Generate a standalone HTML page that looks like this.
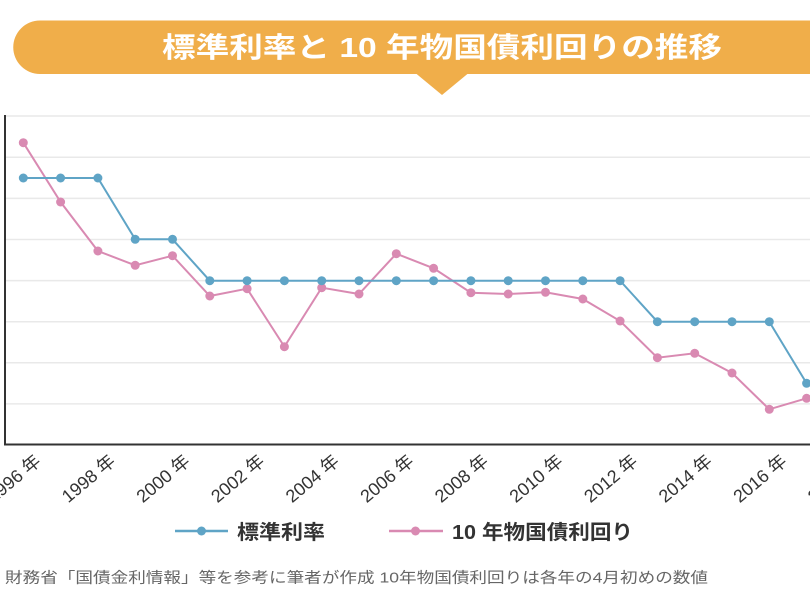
<!DOCTYPE html>
<html>
<head>
<meta charset="utf-8">
<style>
  html,body{margin:0;padding:0;background:#fff;}
  body{width:810px;height:600px;overflow:hidden;}
  svg{display:block;}
  .t{font-family:"Liberation Sans","Noto Sans CJK JP",sans-serif;}
</style>
</head>
<body>
<svg width="810" height="600" viewBox="0 0 810 600" xmlns="http://www.w3.org/2000/svg">
  <!-- Title banner -->
  <path d="M40,20.5 L815,20.5 L815,74 L40,74 A26.75,26.75 0 0 1 40,20.5 Z" fill="#f0ae4a"/>
  <polygon points="416,73.5 468,73.5 442,95" fill="#f0ae4a"/>
  <text class="t" x="162" y="57" font-size="28" font-weight="bold" fill="#ffffff" textLength="560" lengthAdjust="spacingAndGlyphs">標準利率と 10 年物国債利回りの推移</text>

  <!-- gridlines -->
  <g stroke="#e9e9e9" stroke-width="1.5">
    <line x1="5" y1="116" x2="810" y2="116"/>
    <line x1="5" y1="157.3" x2="810" y2="157.3"/>
    <line x1="5" y1="198.4" x2="810" y2="198.4"/>
    <line x1="5" y1="239.5" x2="810" y2="239.5"/>
    <line x1="5" y1="280.6" x2="810" y2="280.6"/>
    <line x1="5" y1="321.7" x2="810" y2="321.7"/>
    <line x1="5" y1="362.8" x2="810" y2="362.8"/>
    <line x1="5" y1="403.9" x2="810" y2="403.9"/>
  </g>
  <!-- axes -->
  <line x1="5" y1="115" x2="5" y2="445" stroke="#333" stroke-width="2"/>
  <line x1="4" y1="444.5" x2="810" y2="444.5" stroke="#333" stroke-width="2"/>

  <!-- pink series -->
  <polyline fill="none" stroke="#d98ab2" stroke-width="2"
    points="23.3,142.7 60.6,202 97.9,251 135.2,265.3 172.5,255.7 209.8,296 247.1,288.7 284.4,346.7 321.7,287.7 359,294 396.3,253.7 433.6,268.3 470.9,292.7 508.2,294 545.5,292.3 582.8,299 620.1,321 657.4,357.7 694.7,353.3 732,373 769.3,409.3 806.6,398.3"/>
  <g fill="#d98ab2">
    <circle cx="23.3" cy="142.7" r="4.5"/><circle cx="60.6" cy="202" r="4.5"/><circle cx="97.9" cy="251" r="4.5"/>
    <circle cx="135.2" cy="265.3" r="4.5"/><circle cx="172.5" cy="255.7" r="4.5"/><circle cx="209.8" cy="296" r="4.5"/>
    <circle cx="247.1" cy="288.7" r="4.5"/><circle cx="284.4" cy="346.7" r="4.5"/><circle cx="321.7" cy="287.7" r="4.5"/>
    <circle cx="359" cy="294" r="4.5"/><circle cx="396.3" cy="253.7" r="4.5"/><circle cx="433.6" cy="268.3" r="4.5"/>
    <circle cx="470.9" cy="292.7" r="4.5"/><circle cx="508.2" cy="294" r="4.5"/><circle cx="545.5" cy="292.3" r="4.5"/>
    <circle cx="582.8" cy="299" r="4.5"/><circle cx="620.1" cy="321" r="4.5"/><circle cx="657.4" cy="357.7" r="4.5"/>
    <circle cx="694.7" cy="353.3" r="4.5"/><circle cx="732" cy="373" r="4.5"/><circle cx="769.3" cy="409.3" r="4.5"/>
    <circle cx="806.6" cy="398.3" r="4.5"/>
  </g>

  <!-- blue series -->
  <polyline fill="none" stroke="#5fa4c6" stroke-width="2"
    points="23.3,178 60.6,178 97.9,178 135.2,239.3 172.5,239.3 209.8,280.7 247.1,280.7 284.4,280.7 321.7,280.7 359,280.7 396.3,280.7 433.6,280.7 470.9,280.7 508.2,280.7 545.5,280.7 582.8,280.7 620.1,280.7 657.4,321.7 694.7,321.7 732,321.7 769.3,321.7 806.6,383.3"/>
  <g fill="#5fa4c6">
    <circle cx="23.3" cy="178" r="4.5"/><circle cx="60.6" cy="178" r="4.5"/><circle cx="97.9" cy="178" r="4.5"/>
    <circle cx="135.2" cy="239.3" r="4.5"/><circle cx="172.5" cy="239.3" r="4.5"/><circle cx="209.8" cy="280.7" r="4.5"/>
    <circle cx="247.1" cy="280.7" r="4.5"/><circle cx="284.4" cy="280.7" r="4.5"/><circle cx="321.7" cy="280.7" r="4.5"/>
    <circle cx="359" cy="280.7" r="4.5"/><circle cx="396.3" cy="280.7" r="4.5"/><circle cx="433.6" cy="280.7" r="4.5"/>
    <circle cx="470.9" cy="280.7" r="4.5"/><circle cx="508.2" cy="280.7" r="4.5"/><circle cx="545.5" cy="280.7" r="4.5"/>
    <circle cx="582.8" cy="280.7" r="4.5"/><circle cx="620.1" cy="280.7" r="4.5"/><circle cx="657.4" cy="321.7" r="4.5"/>
    <circle cx="694.7" cy="321.7" r="4.5"/><circle cx="732" cy="321.7" r="4.5"/><circle cx="769.3" cy="321.7" r="4.5"/>
    <circle cx="806.6" cy="383.3" r="4.5"/>
  </g>

  <!-- x labels -->
  <g class="t" font-size="18" fill="#333" text-anchor="end">
    <text transform="translate(42,463) rotate(-40)">1996 年</text>
    <text transform="translate(116.6,463) rotate(-40)">1998 年</text>
    <text transform="translate(191.2,463) rotate(-40)">2000 年</text>
    <text transform="translate(265.8,463) rotate(-40)">2002 年</text>
    <text transform="translate(340.4,463) rotate(-40)">2004 年</text>
    <text transform="translate(415,463) rotate(-40)">2006 年</text>
    <text transform="translate(489.6,463) rotate(-40)">2008 年</text>
    <text transform="translate(564.2,463) rotate(-40)">2010 年</text>
    <text transform="translate(638.8,463) rotate(-40)">2012 年</text>
    <text transform="translate(713.4,463) rotate(-40)">2014 年</text>
    <text transform="translate(788,463) rotate(-40)">2016 年</text>
    <text transform="translate(862.6,463) rotate(-40)">2018 年</text>
  </g>

  <!-- legend -->
  <line x1="175" y1="531" x2="228" y2="531" stroke="#5fa4c6" stroke-width="2.5"/>
  <circle cx="201.5" cy="531" r="4.5" fill="#5fa4c6"/>
  <text class="t" x="237" y="539" font-size="20" font-weight="bold" fill="#333" textLength="88" lengthAdjust="spacingAndGlyphs">標準利率</text>
  <line x1="389" y1="531" x2="443" y2="531" stroke="#d98ab2" stroke-width="2.5"/>
  <circle cx="415.5" cy="531" r="4.5" fill="#d98ab2"/>
  <text class="t" x="452" y="539" font-size="20" font-weight="bold" fill="#333" textLength="181" lengthAdjust="spacingAndGlyphs">10 年物国債利回り</text>

  <!-- footnote -->
  <text class="t" x="5" y="582.5" font-size="15" fill="#666" textLength="703" lengthAdjust="spacingAndGlyphs">財務省「国債金利情報」等を参考に筆者が作成 10年物国債利回りは各年の4月初めの数値</text>
</svg>
</body>
</html>
